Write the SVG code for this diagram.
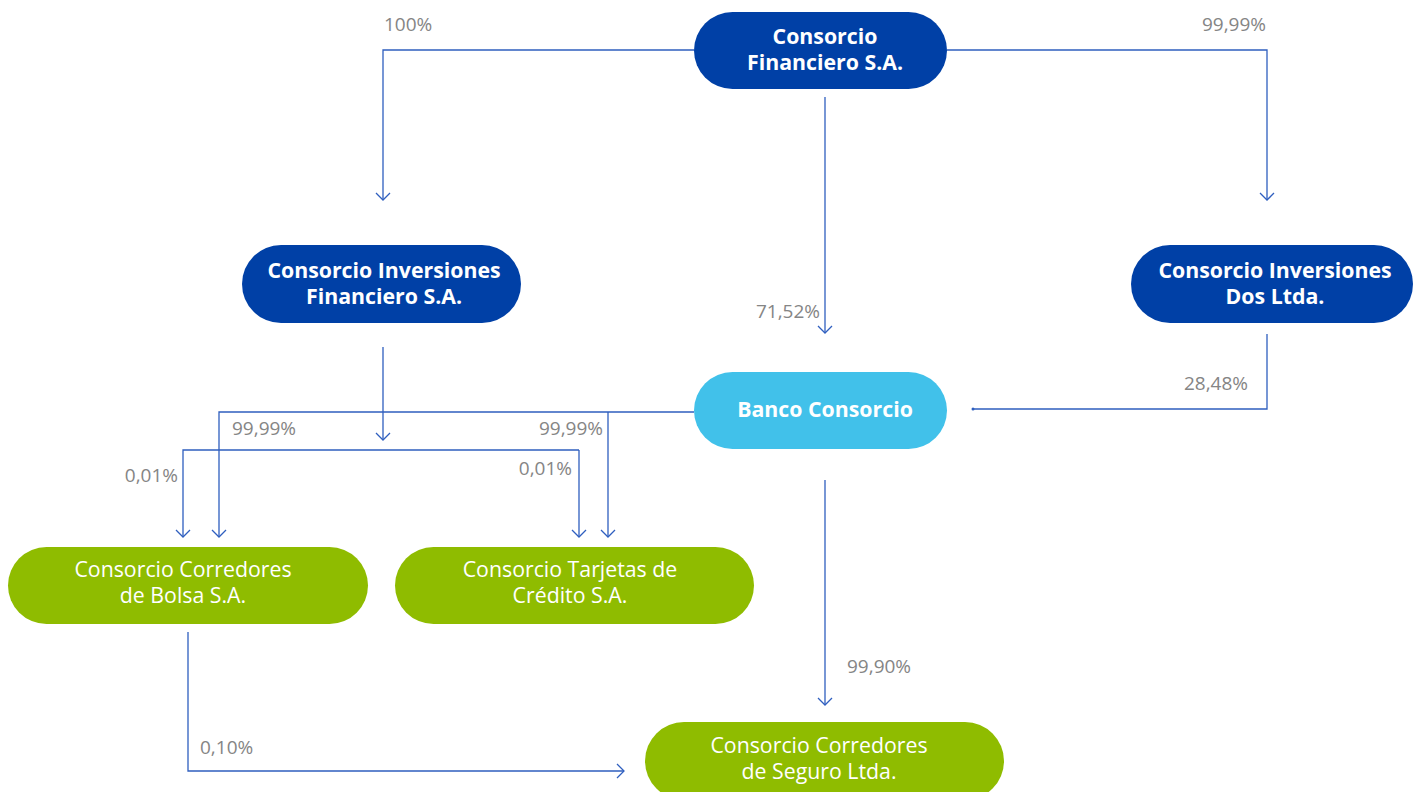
<svg xmlns="http://www.w3.org/2000/svg" width="1423" height="792" viewBox="0 0 1423 792">
<defs>
<marker id="arr" viewBox="-8 -8 10 16" markerWidth="10" markerHeight="16" refX="0" refY="0" orient="auto" markerUnits="userSpaceOnUse">
<path d="M-7,-7 L0,0 L-7,7" fill="none" stroke="#2f5fbf" stroke-width="1.3"/>
</marker>
<style>
.dark{fill:#0040a6}
.light{fill:#41c1ea}
.green{fill:#8fbc00}
.bt{font-family:"Open Sans","Liberation Sans",sans-serif;font-weight:bold;font-size:21.3px;fill:#fff;text-anchor:middle}
.rt{font-family:"Open Sans","Liberation Sans",sans-serif;font-size:21.3px;fill:#fff;text-anchor:middle}
.lbl{font-family:"Open Sans","Liberation Sans",sans-serif;font-size:19px;fill:#858585}
.ln{fill:none;stroke:#2f5fbf;stroke-width:1.3}
.ar{marker-end:url(#arr)}
</style>
</defs>
<rect width="1423" height="792" fill="#fff"/>
<g id="connectors">
<path class="ln ar" d="M694,50 H383 V200"/>
<path class="ln ar" d="M947,50 H1267 V200"/>
<path class="ln ar" d="M825,97 V333"/>
<path class="ln" d="M1267,334 V409 H973"/>
<circle cx="973" cy="409" r="1.5" fill="#2f5fbf"/>
<path class="ln ar" d="M383,347 V440"/>
<path class="ln ar" d="M579,450 H183 V537"/>
<path class="ln ar" d="M579,450 V537"/>
<path class="ln ar" d="M694,412 H219 V537"/>
<path class="ln ar" d="M608,412 V537"/>
<path class="ln ar" d="M825,480 V705"/>
<path class="ln ar" d="M188,632 V771 H624"/>
<text class="lbl" x="384" y="31">100%</text>
<text class="lbl" x="1266" y="31" text-anchor="end">99,99%</text>
<text class="lbl" x="820" y="318" text-anchor="end">71,52%</text>
<text class="lbl" x="1248" y="390" text-anchor="end">28,48%</text>
<text class="lbl" x="232" y="435">99,99%</text>
<text class="lbl" x="603" y="435" text-anchor="end">99,99%</text>
<text class="lbl" x="178" y="482" text-anchor="end">0,01%</text>
<text class="lbl" x="572" y="475" text-anchor="end">0,01%</text>
<text class="lbl" x="847" y="673">99,90%</text>
<text class="lbl" x="200" y="754">0,10%</text>
</g>
<g id="n-cfsa">
<rect class="dark" x="694" y="12" width="253" height="77" rx="38.5"/>
<text class="bt" x="825" y="43.5">Consorcio</text>
<text class="bt" x="825" y="69.5">Financiero S.A.</text>
</g>
<g id="n-cifsa">
<rect class="dark" x="242" y="245" width="279" height="78" rx="39"/>
<text class="bt" x="384" y="278">Consorcio Inversiones</text>
<text class="bt" x="384" y="304">Financiero S.A.</text>
</g>
<g id="n-cidl">
<rect class="dark" x="1131" y="245" width="282" height="78" rx="39"/>
<text class="bt" x="1275" y="278">Consorcio Inversiones</text>
<text class="bt" x="1275" y="304">Dos Ltda.</text>
</g>
<g id="n-banco">
<rect class="light" x="694" y="372" width="253" height="77" rx="38.5"/>
<text class="bt" x="825" y="417">Banco Consorcio</text>
</g>
<g id="n-bolsa">
<rect class="green" x="8" y="547" width="360" height="77" rx="38.5"/>
<text class="rt" x="183" y="577">Consorcio Corredores</text>
<text class="rt" x="183" y="603">de Bolsa S.A.</text>
</g>
<g id="n-tarjetas">
<rect class="green" x="395" y="547" width="359" height="77" rx="38.5"/>
<text class="rt" x="570" y="577">Consorcio Tarjetas de</text>
<text class="rt" x="570" y="603">Crédito S.A.</text>
</g>
<g id="n-seguro">
<rect class="green" x="645" y="722" width="359" height="78" rx="39"/>
<text class="rt" x="819" y="753">Consorcio Corredores</text>
<text class="rt" x="819" y="779">de Seguro Ltda.</text>
</g>
</svg>
